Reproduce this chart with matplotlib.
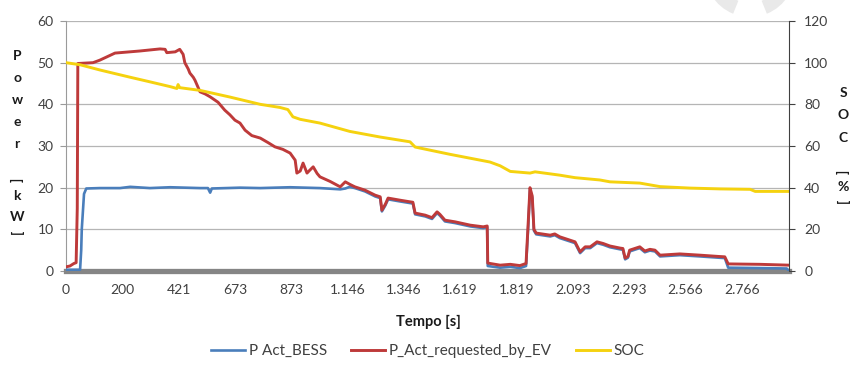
import numpy as np
import matplotlib
matplotlib.use('Agg')
import matplotlib.pyplot as plt
from matplotlib.patches import Wedge

plt.rcParams['font.family'] = ['Lato', 'DejaVu Sans']

# category axis: one tick label every 100 samples
tick_pos = np.arange(0, 1201, 100)
tick_labels = ['0', '200', '421', '673', '873', '1.146', '1.346', '1.619',
               '1.819', '2.093', '2.293', '2.566', '2.766']

# P_Act_requested_by_EV [kW]
ev_x = [0, 7, 14, 18, 20, 21, 48, 60, 87, 131, 167, 176, 179, 194, 202, 208,
        211, 217, 220, 226, 229, 238, 247, 256, 270, 282, 291, 300, 309, 318,
        330, 345, 359, 371, 385, 398, 407, 410, 416, 421, 428, 433, 439, 446,
        451, 469, 487, 496, 504, 513, 531, 549, 558, 561, 567, 572, 593, 611,
        616, 620, 638, 650, 659, 664, 673, 691, 718, 741, 748, 749, 771, 789,
        806, 817, 821, 824, 828, 831, 835, 860, 868, 877, 895, 904, 913, 922,
        931, 943, 954, 966, 984, 989, 993, 998, 1001, 1019, 1028, 1037, 1046,
        1055, 1090, 1126, 1158, 1170, 1176, 1233, 1284]
ev_kw = [1.0, 1.2, 1.8, 2.0, 15, 49.8, 50.0, 50.6, 52.3, 52.8, 53.3, 53.2, 52.4,
         52.6, 53.2, 52.0, 50.0, 48.5, 47.5, 46.5, 45.8, 43.0, 42.5, 41.8, 40.5,
         38.6, 37.5, 36.2, 35.5, 33.8, 32.5, 31.9, 30.8, 29.8, 29.2, 28.3, 26.6,
         23.5, 24.0, 25.9, 23.5, 24.2, 25.0, 23.4, 22.6, 21.5, 20.2, 21.4, 20.8,
         20.2, 19.4, 18.2, 17.8, 14.6, 16.0, 17.5, 17.0, 16.6, 16.5, 13.9, 13.4,
         12.8, 14.2, 13.6, 12.2, 11.8, 11.0, 10.6, 10.8, 1.9, 1.4, 1.6, 1.3, 1.8,
         12, 20.0, 18, 10, 9.1, 8.6, 8.9, 8.2, 7.4, 7.0, 4.6, 5.8, 5.8, 7.0, 6.6,
         6.0, 5.5, 5.4, 3.1, 3.5, 5.0, 5.8, 4.8, 5.2, 5.0, 3.8, 4.1, 3.8, 3.5,
         3.4, 1.7, 1.6, 1.4]

# P Act_BESS [kW]
bess_x = [0, 25, 27, 28, 32, 36, 60, 96, 114, 149, 185, 238, 252, 256, 259, 309,
          345, 398, 451, 487, 496, 504, 513, 531, 549, 558, 561, 567, 572, 593,
          611, 616, 620, 638, 650, 659, 664, 673, 691, 718, 741, 748, 749, 771,
          789, 806, 817, 821, 824, 828, 831, 835, 860, 868, 877, 895, 904, 913,
          922, 931, 943, 954, 966, 984, 989, 993, 998, 1001, 1019, 1028, 1037,
          1046, 1055, 1090, 1126, 1158, 1170, 1176, 1233, 1280, 1284]
bess_kw = [0.3, 0.3, 5, 10, 18.5, 19.8, 19.9, 19.9, 20.2, 19.9, 20.1, 19.9, 19.9,
           18.8, 19.8, 20.0, 19.9, 20.1, 19.9, 19.6, 19.8, 20.2, 19.9, 19.1, 17.9,
           17.5, 14.3, 15.7, 17.2, 16.7, 16.3, 16.2, 13.6, 13.1, 12.5, 13.9, 13.3,
           11.9, 11.5, 10.7, 10.3, 10.5, 1.2, 0.8, 1.0, 0.7, 1.2, 11, 19.5, 17.5,
           9.7, 8.8, 8.3, 8.6, 7.9, 7.1, 6.7, 4.3, 5.5, 5.5, 6.7, 6.3, 5.7, 5.2,
           5.1, 2.8, 3.2, 4.7, 5.5, 4.5, 4.9, 4.7, 3.5, 3.8, 3.5, 3.2, 3.1, 0.8,
           0.7, 0.6, 0.0]

# SOC [%]
soc_x = [0, 25, 60, 114, 149, 185, 197, 199, 202, 238, 291, 345, 380, 394, 403,
         416, 451, 504, 558, 611, 620, 682, 753, 771, 789, 824, 833, 877, 904,
         948, 966, 1019, 1055, 1108, 1162, 1215, 1224, 1284]
soc_pct = [100, 99, 96.5, 93, 90.8, 88.5, 87.6, 89.5, 88, 86.7, 83.5, 80, 78.5,
           77.5, 74, 72.8, 71, 67, 64.3, 62, 59.5, 56, 52.3, 50.5, 47.8, 47, 47.6,
           46, 44.8, 43.7, 42.8, 42.2, 40.5, 39.8, 39.4, 39.2, 38.2, 38.2]

W, H = 850, 367
fig = plt.figure(figsize=(W / 100, H / 100), dpi=100)

# faint logo arc in the top right corner
bg = fig.add_axes([0, 0, 1, 1], zorder=-5)
bg.set_xlim(0, W)
bg.set_ylim(H, 0)
bg.axis('off')
bg.add_patch(Wedge((750, -28), 45, -80, 68, width=14, color='#e9e9e9', lw=0))
bg.add_patch(Wedge((750, -28), 45, 112, 260, width=14, color='#e9e9e9', lw=0))

ax = fig.add_axes([66 / W, 1 - 271 / H, (789 - 66) / W, 250 / H])
ax2 = ax.twinx()

ax.plot(bess_x, bess_kw, color='#4a7ebb', lw=1.9, label='P Act_BESS', zorder=3)
ax.plot(ev_x, ev_kw, color='#be3a3a', lw=2.1, label='P_Act_requested_by_EV', zorder=4)
ax2.plot(soc_x, soc_pct, color='#f5d20f', lw=2.1, label='SOC')

ax.set_xlim(0, 1284)
ax.set_ylim(0, 60)
ax2.set_ylim(0, 120)
ax.set_yticks(np.arange(0, 61, 10))
ax2.set_yticks(np.arange(0, 121, 20))
ax.set_xticks(tick_pos)
ax.set_xticklabels(tick_labels)

ax.yaxis.grid(True, color='#b5b5b5', lw=0.9)
ax.set_axisbelow(True)

for s in ['top', 'right']:
    ax.spines[s].set_visible(False)
for s in ['top', 'left', 'bottom']:
    ax2.spines[s].set_visible(False)
ax.spines['bottom'].set_color('#858585')
ax.spines['bottom'].set_linewidth(3.8)
ax.spines['left'].set_color('#9a9a9a')
ax.spines['left'].set_linewidth(0.8)
ax2.spines['right'].set_color('#404040')
ax2.spines['right'].set_linewidth(0.8)

ax.tick_params(axis='x', length=0, pad=9, labelsize=10, labelcolor='#404040')
ax.tick_params(axis='y', length=4, color='#9a9a9a', pad=5, labelsize=10,
               labelcolor='#404040')
ax2.tick_params(axis='y', length=4, color='#404040', pad=7, labelsize=10,
                labelcolor='#404040')

# stacked axis titles, one character per line, brackets turned
def stacked(x, chars, ys):
    for c, y in zip(chars, ys):
        rot = 90 if c in '[]' else 0
        fig.text(x / W, 1 - y / H, c, ha='center', va='center', rotation=rot,
                 fontsize=10, fontweight='bold', color='#1a1a1a')

stacked(17, ['P', 'o', 'w', 'e', 'r', ']', 'k', 'W', '['],
        [56, 78, 100, 122, 144, 180, 196, 217, 232])
stacked(843, ['S', 'O', 'C', ']', '%', '['],
        [93, 115, 138, 172, 187, 201])

fig.text(428 / W, 1 - 322 / H, 'Tempo [s]', ha='center', va='center',
         fontsize=10.5, fontweight='bold', color='#1a1a1a')

h1, l1 = ax.get_legend_handles_labels()
h2, l2 = ax2.get_legend_handles_labels()
leg = fig.legend(h1 + h2, l1 + l2, loc='center', bbox_to_anchor=(428 / W, 1 - 351 / H),
                 ncol=3, frameon=False, fontsize=11, handlelength=2.2,
                 handletextpad=0.25, columnspacing=1.6)
for t in leg.get_texts():
    t.set_color('#404040')

fig.savefig('out.png', dpi=100)
